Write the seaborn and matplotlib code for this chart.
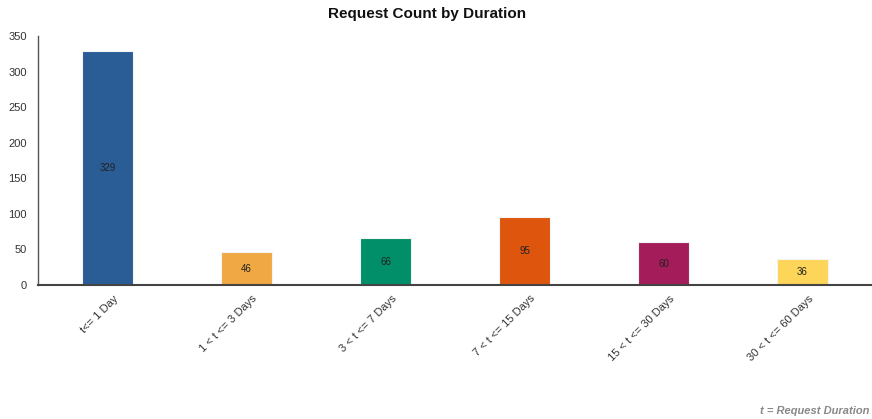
import matplotlib.pyplot as plt
import matplotlib.transforms as mtransforms
import pandas as pd
import seaborn as sns

categories = ['t<= 1 Day', '1 < t <= 3 Days', '3 < t <= 7 Days',
              '7 < t <= 15 Days', '15 < t <= 30 Days', '30 < t <= 60 Days']
counts = [329, 46, 66, 95, 60, 36]
colors = ['#2A5C96', '#EFA843', '#008F68', '#DE550E', '#A51C5A', '#FDD558']

df = pd.DataFrame({'duration': categories, 'count': counts})

sns.set_style('white')
plt.rcParams['font.family'] = ['Liberation Sans', 'DejaVu Sans']

fig = plt.figure(figsize=(8.72, 4.19), dpi=100)
ax = fig.add_axes([0.0436, 0.3198, 0.9564, 0.5942])
sns.barplot(data=df, x='duration', y='count', hue='duration', palette=colors,
            saturation=1, legend=False, width=0.36, edgecolor='#f4f4f4',
            linewidth=0.8, ax=ax)

for i, v in enumerate(counts):
    ax.text(i, v / 2, str(v), ha='center', va='center', fontsize=7, color='#222222')

ax.set_xlim(-0.5, 5.5)
ax.set_ylim(0, 350)
ax.set_yticks(range(0, 351, 50))
ax.set_xlabel('')
ax.set_ylabel('')
ax.tick_params(axis='y', length=0, labelsize=8, colors='#333333', pad=8)
ax.tick_params(axis='x', length=0, labelsize=8, colors='#333333', pad=6)
# nudge rotated labels a bit to the right, like the reference
shift = mtransforms.ScaledTranslation(4 / 72, 0, fig.dpi_scale_trans)
for lbl in ax.get_xticklabels():
    lbl.set_rotation(45)
    lbl.set_ha('right')
    lbl.set_rotation_mode('anchor')
    lbl.set_transform(lbl.get_transform() + shift)
for s in ['top', 'right']:
    ax.spines[s].set_visible(False)
ax.spines['left'].set_color('#555555')
ax.spines['left'].set_linewidth(1)
ax.spines['bottom'].set_color('#444444')
ax.spines['bottom'].set_linewidth(1.5)

fig.text(0.49, 0.967, 'Request Count by Duration', ha='center', va='center',
         fontsize=11, fontweight='bold', color='#111111')
fig.text(0.997, 0.02, 't = Request Duration', ha='right', va='center',
         fontsize=8, fontweight='bold', fontstyle='italic', color='#888888')

fig.savefig('out.png', dpi=100)
